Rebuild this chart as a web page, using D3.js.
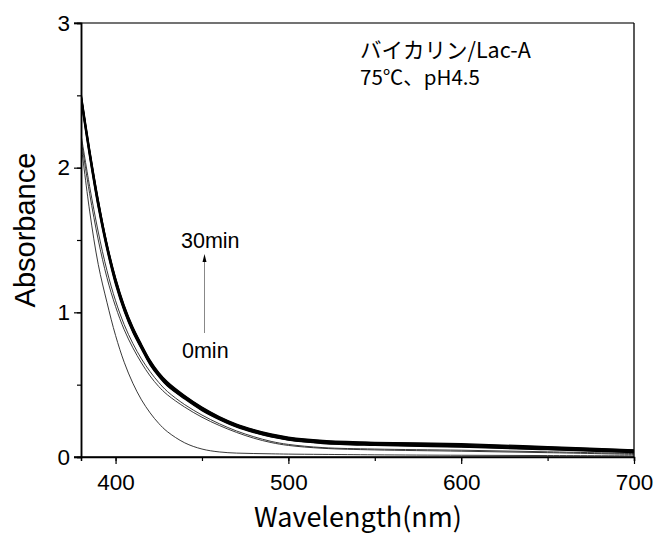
<!DOCTYPE html>
<html><head><meta charset="utf-8">
<script src="https://cdn.jsdelivr.net/npm/d3@7"></script>
<style>body{margin:0;background:#fff}svg{display:block}</style>
</head><body><div id="chart"></div>
<script>
const wavelengths = [380,385,390,395,400,405,410,415,420,425,430,440,450,460,470,480,490,500,520,550,600,650,700];
const times = ["0min","3min","6min","9min","12min","15min","18min","21min","24min","27min","30min"];
const t0  = [2.17,1.70,1.33,1.07,0.84,0.655,0.51,0.395,0.305,0.232,0.175,0.098,0.055,0.035,0.027,0.024,0.022,0.020,0.018,0.015,0.012,0.010,0.008];
const t3  = [2.20,1.82,1.50,1.24,1.04,0.88,0.755,0.65,0.56,0.487,0.43,0.345,0.275,0.218,0.17,0.13,0.10,0.08,0.06,0.049,0.04,0.03,0.018];
const t6  = [2.23,1.87,1.555,1.29,1.08,0.915,0.785,0.678,0.59,0.515,0.453,0.362,0.29,0.23,0.18,0.14,0.108,0.087,0.065,0.055,0.047,0.036,0.024];
const t9  = [2.46,2.07,1.72,1.43,1.19,1.005,0.86,0.745,0.635,0.555,0.49,0.40,0.32,0.258,0.206,0.168,0.138,0.116,0.093,0.08,0.068,0.05,0.03];
const t12 = [2.47,2.08,1.73,1.44,1.20,1.012,0.866,0.75,0.64,0.559,0.494,0.404,0.324,0.261,0.209,0.171,0.141,0.119,0.096,0.083,0.071,0.053,0.033];
const t15 = [2.48,2.09,1.74,1.45,1.207,1.018,0.872,0.755,0.645,0.564,0.498,0.407,0.327,0.265,0.213,0.175,0.145,0.122,0.099,0.086,0.074,0.056,0.036];
const t18 = [2.49,2.10,1.75,1.455,1.214,1.025,0.878,0.76,0.65,0.568,0.503,0.411,0.331,0.268,0.216,0.178,0.148,0.126,0.103,0.09,0.078,0.059,0.039];
const t21 = [2.50,2.11,1.76,1.463,1.221,1.031,0.884,0.765,0.655,0.573,0.507,0.414,0.335,0.271,0.219,0.181,0.151,0.129,0.106,0.093,0.081,0.063,0.042];
const t24 = [2.505,2.117,1.767,1.47,1.228,1.038,0.89,0.77,0.66,0.577,0.511,0.418,0.338,0.274,0.222,0.184,0.154,0.132,0.109,0.096,0.085,0.066,0.045];
const t27 = [2.512,2.124,1.774,1.475,1.234,1.044,0.895,0.775,0.665,0.581,0.516,0.421,0.342,0.277,0.225,0.187,0.157,0.135,0.112,0.099,0.088,0.069,0.048];
const t30 = [2.52,2.13,1.78,1.48,1.24,1.05,0.90,0.78,0.67,0.585,0.52,0.425,0.345,0.28,0.228,0.19,0.16,0.138,0.115,0.102,0.092,0.072,0.05];
const seriesValues = [t0,t3,t6,t9,t12,t15,t18,t21,t24,t27,t30];
const xTicks = [400,500,600,700];
const xMinorTicks = [400,450,500,550,600,650,700];
const yTicks = [0,1,2,3];
const yMinorTicks = [0,0.5,1,1.5,2,2.5,3];

const W = 657, H = 534;
const m = {left:81, right:W-634, top:23, bottom:H-457};
const svg = d3.select("#chart").append("svg").attr("width",W).attr("height",H);
const x = d3.scaleLinear().domain([380,700]).range([m.left, W-m.right]);
const y = d3.scaleLinear().domain([0,3]).range([H-m.bottom, m.top]);
const numFont = "'Liberation Sans', Arial, sans-serif";
const jpFont = "'Noto Sans CJK JP', sans-serif";

svg.append("clipPath").attr("id","clip").append("rect")
  .attr("x",m.left).attr("y",m.top).attr("width",x(700)-x(380)).attr("height",y(0)-y(3));

const line = d3.line().x((d,i)=>x(wavelengths[i])).y(d=>y(d)).curve(d3.curveCatmullRom.alpha(0.5));
const g = svg.append("g").attr("clip-path","url(#clip)");
seriesValues.forEach((vals,k)=>{
  g.append("path").attr("d", line(vals)).attr("fill","none")
   .attr("stroke", k<3 ? "#222" : "#000")
   .attr("stroke-width", k<3 ? 0.9 : 1.2);
});

svg.append("line").attr("x1",x(380)-7).attr("x2",x(700)).attr("y1",y(3)).attr("y2",y(3))
  .attr("stroke","#444").attr("stroke-width",1.6);
svg.append("line").attr("x1",x(700)).attr("x2",x(700)).attr("y1",y(3)).attr("y2",y(0))
  .attr("stroke","#000").attr("stroke-width",1.3);

const xAxisMinor = d3.axisBottom(x).tickValues(xMinorTicks).tickSize(4).tickFormat("");
const xAxis = d3.axisBottom(x).tickValues(xTicks).tickSize(7).tickPadding(10).tickFormat(d3.format("d"));
const yAxisMinor = d3.axisLeft(y).tickValues(yMinorTicks).tickSize(4).tickFormat("");
const yAxis = d3.axisLeft(y).tickValues(yTicks).tickSize(7).tickPadding(4).tickFormat(d3.format("d"));

function style(sel){
  sel.select(".domain").attr("stroke","#000").attr("stroke-width",1.5);
  sel.selectAll(".tick line").attr("stroke","#000").attr("stroke-width",1.2);
  sel.selectAll("text").attr("font-family",numFont).attr("font-size",22.5).attr("fill","#000");
}
svg.append("g").attr("transform",`translate(0,${y(0)})`).call(xAxisMinor).call(style);
svg.append("g").attr("transform",`translate(0,${y(0)})`).call(xAxis).call(style)
  .select(".domain").attr("d",`M${x(380)-7},0H${x(700)}`);
svg.append("g").attr("transform",`translate(${x(380)},0)`).call(yAxisMinor).call(style);
svg.append("g").attr("transform",`translate(${x(380)},0)`).call(yAxis).call(style);

svg.append("text").attr("x",358).attr("y",527).attr("text-anchor","middle")
  .attr("font-family",jpFont).attr("font-size",27).text("Wavelength(nm)");
svg.append("text").attr("transform","translate(35,230) rotate(-90)").attr("text-anchor","middle")
  .attr("font-family",numFont).attr("font-size",29).text("Absorbance");

svg.append("text").attr("x",360).attr("y",58).attr("font-family",jpFont).attr("font-size",21.5).text("バイカリン/Lac-A");
svg.append("text").attr("x",360).attr("y",85).attr("font-family",jpFont).attr("font-size",20.5).text("75℃、pH4.5");

svg.append("text").attr("x",181).attr("y",248).attr("font-family",numFont).attr("font-size",21.5).text(times[times.length-1]);
svg.append("text").attr("x",182).attr("y",358).attr("font-family",numFont).attr("font-size",21.5).text(times[0]);
svg.append("line").attr("x1",204.5).attr("x2",204.5).attr("y1",333).attr("y2",260).attr("stroke","#888").attr("stroke-width",1);
svg.append("path").attr("d","M204.5,254 L202.5,262 L206.5,262 Z").attr("fill","#000");
</script></body></html>
